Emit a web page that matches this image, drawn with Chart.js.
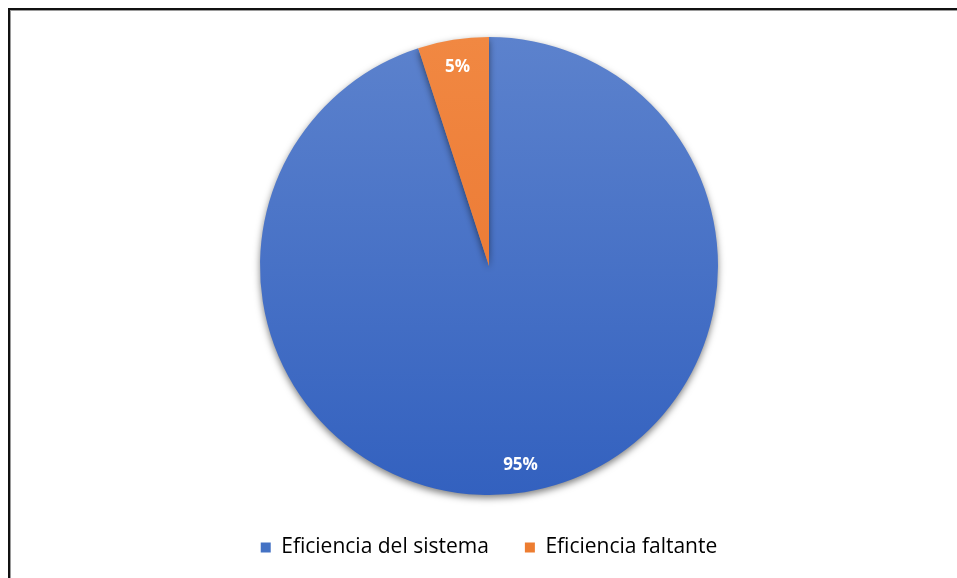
<!DOCTYPE html>
<html>
<head>
<meta charset="utf-8">
<script src="https://cdn.jsdelivr.net/npm/chart.js@4.4.1/dist/chart.umd.min.js"></script>
<style>
    html, body { margin: 0; padding: 0; background: #fff; }
    body { width: 957px; height: 578px; position: relative; overflow: hidden; }
    .frame {
        position: absolute; left: 8px; top: 8px; width: 980px; height: 600px;
        border-top: 2px solid #111; border-left: 2px solid #111;
        box-shadow: inset 1px 1px 0 #9a9a9a;
    }
    #wrap { position: absolute; left: 0; top: 0; width: 957px; height: 578px; }
</style>
</head>
<body>
<div class="frame"></div>
<div id="wrap"><canvas id="pieChart"></canvas></div>
<script>
document.addEventListener('DOMContentLoaded', () => {
    const labels = ['Eficiencia del sistema', 'Eficiencia faltante'];
    const values = [95, 5];
    const pctLabels = ['95%', '5%'];

    // colores con degradado vertical (estilo Excel)
    const gradStops = [
        ['#5c82cd', '#3361bf'],
        ['#f18842', '#e8702b']
    ];
    const legendColors = ['#4472c4', '#ed7d31'];
    const pieRadius = 229;

    const fillFor = (context) => {
        const chart = context.chart;
        const area = chart.chartArea;
        if (!area) return legendColors[context.dataIndex];
        const cy = (area.top + area.bottom) / 2;
        const g = chart.ctx.createLinearGradient(0, cy - pieRadius, 0, cy + pieRadius);
        g.addColorStop(0, gradStops[context.dataIndex][0]);
        g.addColorStop(1, gradStops[context.dataIndex][1]);
        return g;
    };

    // sombra bajo el pastel
    const shadowPlugin = {
        id: 'pieShadow',
        beforeDatasetsDraw(chart) {
            const ctx = chart.ctx;
            ctx.save();
            ctx.shadowColor = 'rgba(0,0,0,0.5)';
            ctx.shadowBlur = 7;
            ctx.shadowOffsetY = 3;
        },
        afterDatasetsDraw(chart) {
            chart.ctx.restore();
        }
    };

    // etiquetas de porcentaje dentro de cada porción
    const pctPlugin = {
        id: 'pctLabels',
        afterDatasetsDraw(chart) {
            const ctx = chart.ctx;
            const meta = chart.getDatasetMeta(0);
            ctx.save();
            ctx.fillStyle = '#ffffff';
            ctx.font = 'bold 17px "Open Sans", sans-serif';
            ctx.textAlign = 'center';
            ctx.textBaseline = 'middle';
            meta.data.forEach((arc, i) => {
                const mid = (arc.startAngle + arc.endAngle) / 2;
                const d = arc.outerRadius * 0.88;
                ctx.fillText(pctLabels[i], arc.x + Math.cos(mid) * d, arc.y + Math.sin(mid) * d);
            });
            ctx.restore();
        }
    };

    const ctx = document.getElementById('pieChart').getContext('2d');
    new Chart(ctx, {
        type: 'pie',
        data: {
            labels: labels,
            datasets: [{
                data: values,
                radius: pieRadius,
                backgroundColor: fillFor,
                borderWidth: 0
            }]
        },
        options: {
            responsive: true,
            maintainAspectRatio: false,
            animation: false,
            layout: {
                padding: { top: 31, left: 21, right: 0, bottom: 10 }
            },
            plugins: {
                legend: {
                    display: true,
                    position: 'bottom',
                    labels: {
                        boxWidth: 10,
                        boxHeight: 10,
                        padding: 36,
                        color: '#595959',
                        font: { family: '"Open Sans", sans-serif', size: 21 },
                        generateLabels: () => labels.map((text, i) => ({
                            text: text,
                            fillStyle: legendColors[i],
                            strokeStyle: legendColors[i],
                            lineWidth: 0,
                            index: i
                        }))
                    }
                },
                tooltip: { enabled: false }
            }
        },
        plugins: [shadowPlugin, pctPlugin]
    });
});
</script>
</body>
</html>
